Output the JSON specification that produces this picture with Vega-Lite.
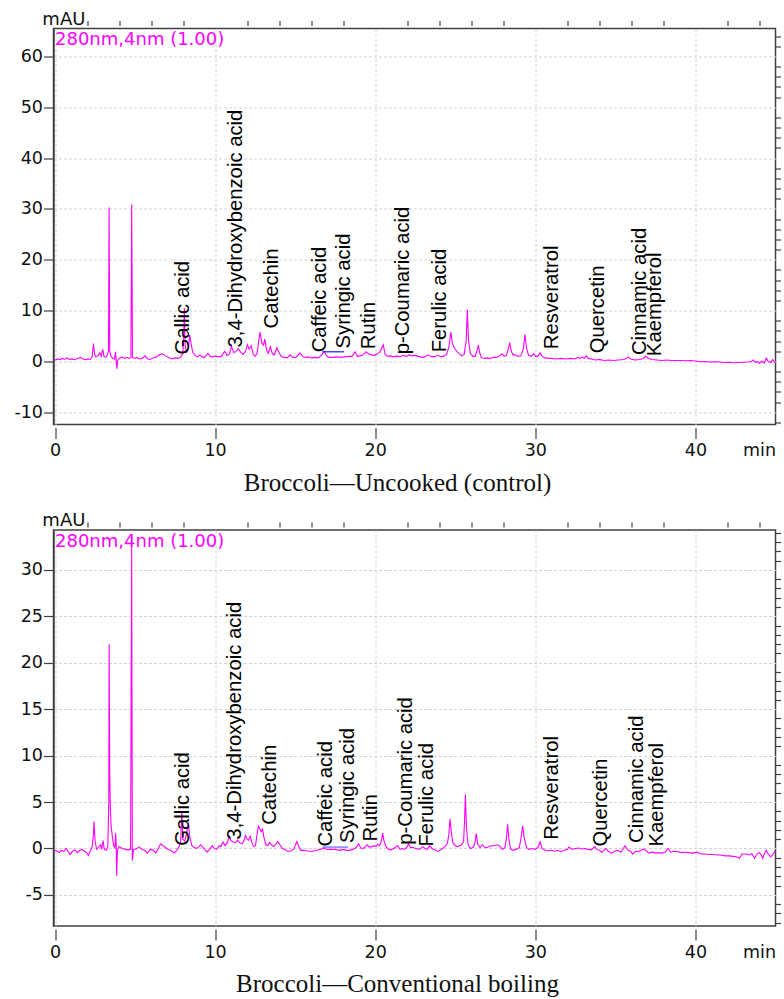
{
  "$schema": "https://vega.github.io/schema/vega-lite/v6.json",
  "background": "white",
  "padding": {"left": 12.5, "top": 9.5, "right": 0, "bottom": 0},
  "bounds": "flush",
  "spacing": 105.5,
  "config": {
    "view": {"stroke": "#404040", "strokeWidth": 1.5},
    "axis": {
      "labelFont": "DejaVu Sans", "labelFontSize": 17.5, "labelColor": "#111111",
      "titleFont": "DejaVu Sans", "titleFontSize": 17.5, "titleFontWeight": "normal", "titleColor": "#111111",
      "tickColor": "#404040", "domainColor": "#404040",
      "gridColor": "#d4d4d4", "gridDash": [3, 2], "gridWidth": 1
    }
  },
  "datasets": {
    "top": [
      {"t":0,"v":0.3},{"t":0.15,"v":0.5},{"t":0.3,"v":0.35},{"t":0.45,"v":0.6},{"t":0.6,"v":0.45},{"t":0.75,"v":0.7},{"t":0.9,"v":0.4},{"t":1.05,"v":0.5},{"t":1.2,"v":0.35},{"t":1.4,"v":0.6},{"t":1.6,"v":0.8},{"t":1.75,"v":0.5},{"t":1.9,"v":0.35},{"t":2.05,"v":0.5},{"t":2.2,"v":0.4},{"t":2.32,"v":0.9},{"t":2.4,"v":3.5},{"t":2.47,"v":1.5},{"t":2.55,"v":0.9},{"t":2.7,"v":1.2},{"t":2.8,"v":1.7},{"t":2.88,"v":1.0},{"t":2.98,"v":2.4},{"t":3.06,"v":1.0},{"t":3.18,"v":0.8},{"t":3.28,"v":1.3},{"t":3.34,"v":2},{"t":3.38,"v":30.3},{"t":3.42,"v":2.0},{"t":3.5,"v":1.0},{"t":3.62,"v":0.6},{"t":3.72,"v":0.5},{"t":3.78,"v":1.9},{"t":3.82,"v":0.2},{"t":3.86,"v":-1.4},{"t":3.92,"v":0.3},{"t":4.05,"v":0.7},{"t":4.2,"v":0.9},{"t":4.35,"v":0.6},{"t":4.5,"v":0.8},{"t":4.62,"v":0.6},{"t":4.74,"v":0.8},{"t":4.79,"v":30.9},{"t":4.84,"v":0.8},{"t":4.95,"v":0.6},{"t":5.1,"v":0.8},{"t":5.25,"v":0.5},{"t":5.45,"v":0.6},{"t":5.62,"v":1.1},{"t":5.78,"v":0.5},{"t":5.95,"v":0.4},{"t":6.1,"v":0.7},{"t":6.3,"v":0.8},{"t":6.5,"v":1.3},{"t":6.7,"v":1.5},{"t":6.9,"v":1.1},{"t":7.1,"v":0.8},{"t":7.3,"v":0.5},{"t":7.5,"v":0.7},{"t":7.7,"v":0.6},{"t":7.85,"v":0.9},{"t":7.98,"v":1.5},{"t":8.03,"v":4},{"t":8.08,"v":10.5},{"t":8.13,"v":3},{"t":8.22,"v":1.8},{"t":8.32,"v":2.5},{"t":8.42,"v":5.2},{"t":8.5,"v":3.5},{"t":8.6,"v":1.8},{"t":8.75,"v":1.2},{"t":8.9,"v":0.9},{"t":9.05,"v":1.3},{"t":9.2,"v":0.9},{"t":9.35,"v":0.8},{"t":9.55,"v":1.6},{"t":9.7,"v":1.0},{"t":9.85,"v":0.9},{"t":10.0,"v":1.1},{"t":10.2,"v":0.9},{"t":10.4,"v":1.0},{"t":10.6,"v":2.0},{"t":10.75,"v":1.2},{"t":10.9,"v":1.5},{"t":11.02,"v":3.0},{"t":11.15,"v":1.8},{"t":11.3,"v":1.9},{"t":11.45,"v":2.5},{"t":11.6,"v":1.8},{"t":11.75,"v":1.4},{"t":11.9,"v":2.0},{"t":12.02,"v":3.3},{"t":12.12,"v":2.4},{"t":12.25,"v":3.1},{"t":12.38,"v":1.4},{"t":12.5,"v":1.0},{"t":12.62,"v":1.6},{"t":12.8,"v":5.8},{"t":12.92,"v":3.6},{"t":13.02,"v":3.2},{"t":13.1,"v":4.4},{"t":13.22,"v":2.2},{"t":13.32,"v":1.6},{"t":13.45,"v":2.9},{"t":13.58,"v":1.5},{"t":13.7,"v":1.3},{"t":13.85,"v":2.7},{"t":13.98,"v":1.8},{"t":14.12,"v":1.0},{"t":14.3,"v":0.8},{"t":14.5,"v":0.7},{"t":14.7,"v":1.3},{"t":14.85,"v":0.8},{"t":15.05,"v":0.8},{"t":15.3,"v":1.7},{"t":15.45,"v":1.0},{"t":15.6,"v":0.8},{"t":15.8,"v":0.9},{"t":16.0,"v":0.7},{"t":16.2,"v":0.8},{"t":16.45,"v":0.7},{"t":16.65,"v":1.3},{"t":16.82,"v":2.0},{"t":16.95,"v":1.1},{"t":17.1,"v":0.8},{"t":17.35,"v":0.8},{"t":17.6,"v":0.9},{"t":17.85,"v":0.8},{"t":18.1,"v":0.9},{"t":18.35,"v":1.0},{"t":18.55,"v":1.0},{"t":18.75,"v":1.9},{"t":18.88,"v":1.0},{"t":19.05,"v":1.1},{"t":19.25,"v":1.3},{"t":19.42,"v":1.9},{"t":19.58,"v":1.5},{"t":19.75,"v":1.3},{"t":19.95,"v":1.2},{"t":20.15,"v":1.5},{"t":20.3,"v":1.9},{"t":20.5,"v":3.3},{"t":20.62,"v":1.4},{"t":20.78,"v":1.0},{"t":20.95,"v":1.1},{"t":21.15,"v":0.9},{"t":21.35,"v":1.1},{"t":21.55,"v":0.9},{"t":21.75,"v":1.2},{"t":21.95,"v":1.0},{"t":22.1,"v":1.3},{"t":22.3,"v":1.1},{"t":22.5,"v":1.2},{"t":22.7,"v":1.0},{"t":22.9,"v":0.8},{"t":23.1,"v":0.9},{"t":23.3,"v":1.3},{"t":23.5,"v":1.0},{"t":23.7,"v":0.9},{"t":23.9,"v":1.2},{"t":24.1,"v":0.9},{"t":24.3,"v":1.1},{"t":24.45,"v":1.4},{"t":24.6,"v":2.8},{"t":24.72,"v":5.8},{"t":24.82,"v":3.5},{"t":24.95,"v":2.6},{"t":25.1,"v":2.0},{"t":25.25,"v":1.5},{"t":25.4,"v":1.1},{"t":25.55,"v":1.4},{"t":25.68,"v":4},{"t":25.75,"v":10.2},{"t":25.83,"v":4},{"t":25.95,"v":1.5},{"t":26.1,"v":1.0},{"t":26.25,"v":1.0},{"t":26.36,"v":2.2},{"t":26.44,"v":3.2},{"t":26.52,"v":1.8},{"t":26.62,"v":0.8},{"t":26.8,"v":0.6},{"t":27.0,"v":0.7},{"t":27.2,"v":0.6},{"t":27.4,"v":0.8},{"t":27.6,"v":0.8},{"t":27.8,"v":1.2},{"t":27.92,"v":1.5},{"t":28.05,"v":1.0},{"t":28.2,"v":1.2},{"t":28.32,"v":2.6},{"t":28.4,"v":3.7},{"t":28.48,"v":2.2},{"t":28.6,"v":1.3},{"t":28.75,"v":1.3},{"t":28.9,"v":1.0},{"t":29.1,"v":1.1},{"t":29.25,"v":2.5},{"t":29.35,"v":5.3},{"t":29.45,"v":2.6},{"t":29.58,"v":1.2},{"t":29.75,"v":1.0},{"t":29.9,"v":1.5},{"t":30.02,"v":1.0},{"t":30.15,"v":1.0},{"t":30.3,"v":1.7},{"t":30.42,"v":1.0},{"t":30.6,"v":0.7},{"t":30.8,"v":0.6},{"t":31.0,"v":0.6},{"t":31.3,"v":0.5},{"t":31.6,"v":0.6},{"t":31.9,"v":0.5},{"t":32.2,"v":0.6},{"t":32.45,"v":0.5},{"t":32.65,"v":0.8},{"t":32.8,"v":0.6},{"t":32.95,"v":0.9},{"t":33.05,"v":0.6},{"t":33.18,"v":1.1},{"t":33.3,"v":0.6},{"t":33.5,"v":0.5},{"t":33.75,"v":0.3},{"t":34.0,"v":0.4},{"t":34.3,"v":0.2},{"t":34.6,"v":0.3},{"t":34.9,"v":0.2},{"t":35.2,"v":0.3},{"t":35.5,"v":0.4},{"t":35.7,"v":0.6},{"t":35.83,"v":0.9},{"t":35.95,"v":0.5},{"t":36.2,"v":0.3},{"t":36.5,"v":0.4},{"t":36.75,"v":0.6},{"t":36.9,"v":1.05},{"t":37.05,"v":0.6},{"t":37.3,"v":0.4},{"t":37.6,"v":0.3},{"t":37.9,"v":0.2},{"t":38.2,"v":0.3},{"t":38.5,"v":0.2},{"t":38.8,"v":0.2},{"t":39.1,"v":0.2},{"t":39.4,"v":0.15},{"t":39.7,"v":0.2},{"t":40.0,"v":0.1},{"t":40.3,"v":-0.05},{"t":40.6,"v":0.0},{"t":40.9,"v":-0.1},{"t":41.2,"v":-0.05},{"t":41.5,"v":-0.1},{"t":41.8,"v":-0.2},{"t":42.1,"v":-0.15},{"t":42.4,"v":-0.25},{"t":42.7,"v":-0.2},{"t":43.0,"v":-0.15},{"t":43.3,"v":-0.1},{"t":43.5,"v":0.0},{"t":43.6,"v":0.3},{"t":43.75,"v":-0.2},{"t":43.9,"v":0.0},{"t":44.0,"v":-0.4},{"t":44.15,"v":0.1},{"t":44.3,"v":-0.3},{"t":44.42,"v":0.7},{"t":44.55,"v":0.0},{"t":44.7,"v":-0.2},{"t":44.83,"v":0.4},{"t":44.95,"v":-0.2},{"t":45.0,"v":-0.2}
    ],
    "bot": [
      {"t":0,"v":-0.2},{"t":0.15,"v":-0.3},{"t":0.25,"v":-0.45},{"t":0.4,"v":-0.2},{"t":0.55,"v":-0.3},{"t":0.7,"v":0.0},{"t":0.85,"v":-0.4},{"t":0.95,"v":-0.65},{"t":1.1,"v":-0.3},{"t":1.25,"v":-0.15},{"t":1.4,"v":-0.45},{"t":1.55,"v":-0.2},{"t":1.7,"v":-0.1},{"t":1.85,"v":-0.3},{"t":2.0,"v":-0.5},{"t":2.08,"v":-0.75},{"t":2.2,"v":-0.3},{"t":2.32,"v":0.2},{"t":2.4,"v":1.5},{"t":2.44,"v":2.9},{"t":2.5,"v":0.8},{"t":2.6,"v":-0.1},{"t":2.7,"v":0.1},{"t":2.85,"v":0.4},{"t":2.92,"v":-0.1},{"t":3.0,"v":0.85},{"t":3.08,"v":-0.1},{"t":3.2,"v":-0.2},{"t":3.3,"v":0.2},{"t":3.36,"v":5},{"t":3.38,"v":22.0},{"t":3.42,"v":8},{"t":3.45,"v":4.7},{"t":3.5,"v":2.5},{"t":3.58,"v":1.3},{"t":3.66,"v":0.3},{"t":3.74,"v":0.1},{"t":3.79,"v":1.65},{"t":3.82,"v":0.5},{"t":3.85,"v":-2.95},{"t":3.9,"v":-0.2},{"t":4.0,"v":0.2},{"t":4.2,"v":0.0},{"t":4.4,"v":-0.1},{"t":4.6,"v":-0.15},{"t":4.72,"v":-0.1},{"t":4.79,"v":32.5},{"t":4.83,"v":-1.3},{"t":4.9,"v":-0.1},{"t":5.05,"v":-0.05},{"t":5.25,"v":0.15},{"t":5.45,"v":-0.1},{"t":5.6,"v":-0.2},{"t":5.77,"v":-0.5},{"t":5.95,"v":-0.1},{"t":6.1,"v":-0.15},{"t":6.3,"v":-0.5},{"t":6.45,"v":0.0},{"t":6.6,"v":0.5},{"t":6.75,"v":0.3},{"t":6.9,"v":0.1},{"t":7.05,"v":-0.1},{"t":7.2,"v":-0.2},{"t":7.35,"v":-0.35},{"t":7.44,"v":-0.5},{"t":7.6,"v":-0.2},{"t":7.75,"v":0.2},{"t":7.85,"v":0.8},{"t":7.92,"v":4.0},{"t":7.98,"v":1.0},{"t":8.1,"v":0.8},{"t":8.22,"v":1.6},{"t":8.33,"v":2.8},{"t":8.42,"v":1.2},{"t":8.55,"v":0.3},{"t":8.7,"v":0.1},{"t":8.85,"v":0.0},{"t":9.0,"v":0.2},{"t":9.1,"v":0.4},{"t":9.25,"v":0.1},{"t":9.4,"v":-0.2},{"t":9.5,"v":-0.4},{"t":9.65,"v":-0.1},{"t":9.83,"v":0.3},{"t":9.95,"v":0.0},{"t":10.1,"v":-0.1},{"t":10.25,"v":0.3},{"t":10.35,"v":0.2},{"t":10.5,"v":0.7},{"t":10.62,"v":0.3},{"t":10.75,"v":0.6},{"t":10.88,"v":1.3},{"t":11.0,"v":0.8},{"t":11.1,"v":0.75},{"t":11.25,"v":0.6},{"t":11.4,"v":0.9},{"t":11.55,"v":0.6},{"t":11.7,"v":0.5},{"t":11.82,"v":0.9},{"t":11.9,"v":1.4},{"t":12.0,"v":1.0},{"t":12.08,"v":0.9},{"t":12.2,"v":1.3},{"t":12.3,"v":0.6},{"t":12.4,"v":0.2},{"t":12.52,"v":0.3},{"t":12.62,"v":1.5},{"t":12.7,"v":2.4},{"t":12.8,"v":2.1},{"t":12.88,"v":1.8},{"t":12.96,"v":2.1},{"t":13.05,"v":1.2},{"t":13.17,"v":0.4},{"t":13.28,"v":0.3},{"t":13.4,"v":0.65},{"t":13.52,"v":0.4},{"t":13.65,"v":0.2},{"t":13.78,"v":0.4},{"t":13.9,"v":0.75},{"t":14.05,"v":0.4},{"t":14.2,"v":0.0},{"t":14.35,"v":-0.1},{"t":14.5,"v":-0.3},{"t":14.7,"v":-0.3},{"t":14.9,"v":-0.1},{"t":15.05,"v":0.5},{"t":15.1,"v":0.75},{"t":15.2,"v":0.3},{"t":15.35,"v":-0.2},{"t":15.55,"v":-0.2},{"t":15.8,"v":-0.3},{"t":16.1,"v":-0.3},{"t":16.35,"v":-0.2},{"t":16.55,"v":-0.1},{"t":16.8,"v":0.05},{"t":17.0,"v":-0.1},{"t":17.25,"v":-0.1},{"t":17.5,"v":-0.1},{"t":17.75,"v":-0.2},{"t":18.0,"v":-0.1},{"t":18.2,"v":-0.2},{"t":18.4,"v":-0.2},{"t":18.6,"v":-0.1},{"t":18.8,"v":0.1},{"t":18.96,"v":0.5},{"t":19.1,"v":0.05},{"t":19.25,"v":0.0},{"t":19.38,"v":0.2},{"t":19.5,"v":0.4},{"t":19.62,"v":0.15},{"t":19.8,"v":0.2},{"t":19.95,"v":0.3},{"t":20.05,"v":0.2},{"t":20.15,"v":0.45},{"t":20.28,"v":0.3},{"t":20.4,"v":0.9},{"t":20.46,"v":1.65},{"t":20.55,"v":0.8},{"t":20.67,"v":0.2},{"t":20.85,"v":-0.1},{"t":21.0,"v":-0.15},{"t":21.2,"v":0.05},{"t":21.4,"v":0.3},{"t":21.55,"v":-0.1},{"t":21.7,"v":0.0},{"t":21.85,"v":-0.1},{"t":22.0,"v":0.2},{"t":22.08,"v":0.5},{"t":22.2,"v":0.1},{"t":22.35,"v":0.1},{"t":22.55,"v":0.0},{"t":22.75,"v":-0.1},{"t":22.96,"v":0.2},{"t":23.1,"v":0.0},{"t":23.25,"v":-0.1},{"t":23.4,"v":0.3},{"t":23.55,"v":0.0},{"t":23.75,"v":-0.2},{"t":23.9,"v":-0.3},{"t":24.05,"v":-0.2},{"t":24.2,"v":0.0},{"t":24.35,"v":0.2},{"t":24.5,"v":0.5},{"t":24.6,"v":1.5},{"t":24.67,"v":3.2},{"t":24.75,"v":1.8},{"t":24.85,"v":0.6},{"t":25.0,"v":0.3},{"t":25.15,"v":0.2},{"t":25.25,"v":0.3},{"t":25.4,"v":0.4},{"t":25.52,"v":0.8},{"t":25.58,"v":3},{"t":25.63,"v":5.8},{"t":25.7,"v":2.2},{"t":25.8,"v":0.4},{"t":25.95,"v":0.0},{"t":26.1,"v":0.1},{"t":26.22,"v":0.5},{"t":26.31,"v":1.6},{"t":26.4,"v":0.5},{"t":26.55,"v":0.1},{"t":26.7,"v":0.4},{"t":26.85,"v":0.1},{"t":27.0,"v":0.1},{"t":27.2,"v":0.3},{"t":27.45,"v":0.3},{"t":27.65,"v":0.4},{"t":27.8,"v":0.2},{"t":27.95,"v":-0.1},{"t":28.1,"v":0.1},{"t":28.2,"v":1.2},{"t":28.27,"v":2.6},{"t":28.35,"v":1.0},{"t":28.45,"v":-0.05},{"t":28.6,"v":-0.2},{"t":28.8,"v":-0.1},{"t":29.0,"v":0.1},{"t":29.12,"v":1.3},{"t":29.21,"v":2.45},{"t":29.3,"v":1.2},{"t":29.45,"v":0.1},{"t":29.6,"v":-0.1},{"t":29.8,"v":0.0},{"t":30.0,"v":-0.1},{"t":30.15,"v":0.1},{"t":30.3,"v":0.7},{"t":30.42,"v":0.0},{"t":30.6,"v":-0.2},{"t":30.8,"v":-0.25},{"t":31.0,"v":-0.2},{"t":31.2,"v":-0.3},{"t":31.4,"v":-0.2},{"t":31.6,"v":-0.35},{"t":31.8,"v":-0.2},{"t":32.0,"v":-0.1},{"t":32.1,"v":0.15},{"t":32.3,"v":-0.1},{"t":32.5,"v":0.0},{"t":32.7,"v":0.05},{"t":32.9,"v":-0.05},{"t":33.1,"v":0.0},{"t":33.3,"v":-0.1},{"t":33.5,"v":-0.15},{"t":33.7,"v":0.2},{"t":33.85,"v":-0.1},{"t":34.0,"v":-0.2},{"t":34.15,"v":-0.4},{"t":34.4,"v":0.0},{"t":34.55,"v":-0.3},{"t":34.75,"v":-0.5},{"t":34.95,"v":-0.3},{"t":35.15,"v":-0.2},{"t":35.35,"v":-0.4},{"t":35.6,"v":0.3},{"t":35.8,"v":-0.2},{"t":35.95,"v":-0.3},{"t":36.08,"v":-0.6},{"t":36.25,"v":-0.3},{"t":36.45,"v":-0.35},{"t":36.6,"v":-0.2},{"t":36.8,"v":-0.05},{"t":36.95,"v":-0.3},{"t":37.1,"v":-0.5},{"t":37.3,"v":-0.4},{"t":37.5,"v":-0.5},{"t":37.7,"v":-0.45},{"t":37.9,"v":-0.5},{"t":38.1,"v":-0.4},{"t":38.3,"v":0.0},{"t":38.45,"v":-0.4},{"t":38.65,"v":-0.3},{"t":38.9,"v":-0.35},{"t":39.1,"v":-0.45},{"t":39.35,"v":-0.4},{"t":39.6,"v":-0.45},{"t":39.85,"v":-0.5},{"t":40.1,"v":-0.4},{"t":40.35,"v":-0.6},{"t":40.6,"v":-0.6},{"t":40.85,"v":-0.65},{"t":41.1,"v":-0.65},{"t":41.35,"v":-0.7},{"t":41.6,"v":-0.7},{"t":41.85,"v":-0.8},{"t":42.1,"v":-0.8},{"t":42.35,"v":-0.85},{"t":42.55,"v":-0.9},{"t":42.75,"v":-1.05},{"t":42.9,"v":-0.6},{"t":43.05,"v":-0.6},{"t":43.2,"v":-0.6},{"t":43.38,"v":-0.7},{"t":43.52,"v":-0.55},{"t":43.69,"v":-1.05},{"t":43.85,"v":-0.6},{"t":44.0,"v":-0.45},{"t":44.1,"v":-0.65},{"t":44.2,"v":-1.05},{"t":44.32,"v":-0.5},{"t":44.42,"v":-0.2},{"t":44.55,"v":-0.6},{"t":44.7,"v":-0.9},{"t":44.85,"v":-0.6},{"t":45.0,"v":-0.2}
    ],
    "blueTop": [{"t":16.7,"v":1.9},{"t":18.05,"v":1.9}],
    "blueBot": [{"t":16.7,"v":0.15},{"t":18.3,"v":0.15}],
    "labelsTop": [
      {"name":"Gallic acid","t":8.375,"v":1.38},
      {"name":"3,4-Dihydroxybenzoic acid","t":11.7,"v":2.75},
      {"name":"Catechin","t":13.9,"v":6.5},
      {"name":"Caffeic acid","t":16.9,"v":1.8},
      {"name":"Syringic acid","t":18.4,"v":2.55},
      {"name":"Rutin","t":20.0,"v":2.4},
      {"name":"p-Coumaric acid","t":22.1,"v":1.4},
      {"name":"Ferulic acid","t":24.4,"v":1.8},
      {"name":"Resveratrol","t":31.4,"v":2.4},
      {"name":"Quercetin","t":34.3,"v":1.6},
      {"name":"Cinnamic acid","t":36.9,"v":1.25},
      {"name":"Kaempferol","t":37.85,"v":1.05}
    ],
    "labelsBot": [
      {"name":"Gallic acid","t":8.375,"v":0.3},
      {"name":"3,4-Dihydroxybenzoic acid","t":11.6,"v":0.95},
      {"name":"Catechin","t":13.8,"v":2.55},
      {"name":"Caffeic acid","t":17.27,"v":0.2},
      {"name":"Syringic acid","t":18.7,"v":0.6},
      {"name":"Rutin","t":20.1,"v":0.75},
      {"name":"p-Coumaric acid","t":22.3,"v":0.4},
      {"name":"Ferulic acid","t":23.6,"v":0.2},
      {"name":"Resveratrol","t":31.4,"v":0.95},
      {"name":"Quercetin","t":34.5,"v":0.2},
      {"name":"Cinnamic acid","t":36.7,"v":0.6},
      {"name":"Kaempferol","t":37.95,"v":0.2}
    ],
    "headTop": [{"t":0,"v":62.2,"txt":"280nm,4nm (1.00)","color":"magenta"},{"t":-0.79,"v":66.19,"txt":"mAU","color":"black"}],
    "headBot": [{"t":0,"v":32.5,"txt":"280nm,4nm (1.00)","color":"magenta"},{"t":-0.79,"v":34.73,"txt":"mAU","color":"black"}]
  },
  "vconcat": [
    {
      "width": 722, "height": 396,
      "title": {"text": "Broccoli—Uncooked (control)", "orient": "bottom", "font": "Liberation Serif", "fontSize": 25, "fontWeight": "normal", "color": "#111111", "dx": -17, "offset": 11.5},
      "resolve": {"axis": {"x": "independent", "y": "independent"}},
      "layer": [
        {
          "data": {"name": "top"},
          "mark": {"type": "line", "color": "#ff00ff", "strokeWidth": 1.1, "clip": true},
          "encoding": {
            "x": {"field": "t", "type": "quantitative", "scale": {"domain": [-0.094, 45], "nice": false, "zero": false},
                  "axis": {"values": [0,10,20,30,40], "labelExpr": "'' + datum.value", "tickSize": 11, "tickWidth": 1.2, "labelPadding": 3, "offset": 3, "domain": false, "grid": true, "labelFlush": false, "labelOverlap": false, "title": "min", "titleX": 722, "titleY": 28, "titleAlign": "right", "titleBaseline": "alphabetic"}},
            "y": {"field": "v", "type": "quantitative", "scale": {"domain": [-12.4, 65.5], "nice": false, "zero": false},
                  "axis": {"values": [-10,0,10,20,30,40,50,60], "labelExpr": "'' + datum.value", "tickSize": 10, "tickWidth": 1.2, "labelPadding": 1, "domain": true, "domainWidth": 1.5, "grid": true, "labelFlush": false, "labelOverlap": false, "title": null}}
          }
        },
        {
          "data": {"name": "blueTop"},
          "mark": {"type": "line", "color": "#0000ff", "strokeWidth": 1.1},
          "encoding": {
            "x": {"field": "t", "type": "quantitative", "scale": {"domain": [-0.094, 45], "nice": false, "zero": false},
                  "axis": {"values": [2,4,6,8,12,14,16,18,22,24,26,28,32,34,36,38,42,44], "labels": false, "tickSize": 5, "tickWidth": 1.2, "offset": 3, "domain": false, "grid": false, "title": null}},
            "y": {"field": "v", "type": "quantitative", "scale": {"domain": [-12.4, 65.5], "nice": false, "zero": false},
                  "axis": {"values": [-12,-8,-6,-4,-2,2,4,6,8,12,14,16,18,22,24,26,28,32,34,36,38,42,44,46,48,52,54,56,58,62,64], "labels": false, "tickSize": 5, "tickWidth": 1.2, "domain": false, "grid": false, "title": null}}
          }
        },
        {
          "data": {"name": "labelsTop"},
          "mark": {"type": "text", "angle": 270, "align": "left", "baseline": "alphabetic", "font": "Liberation Sans", "fontSize": 20.3, "color": "#000000"},
          "encoding": {
            "x": {"field": "t", "type": "quantitative", "scale": {"domain": [-0.094, 45], "nice": false, "zero": false}, "axis": null},
            "y": {"field": "v", "type": "quantitative", "scale": {"domain": [-12.4, 65.5], "nice": false, "zero": false}, "axis": null},
            "text": {"field": "name"}
          }
        },
        {
          "data": {"name": "headTop"},
          "mark": {"type": "text", "align": "left", "baseline": "alphabetic", "font": "DejaVu Sans", "fontSize": 18},
          "encoding": {
            "x": {"field": "t", "type": "quantitative", "scale": {"domain": [-0.094, 45], "nice": false, "zero": false}, "axis": null},
            "y": {"field": "v", "type": "quantitative", "scale": {"domain": [-12.4, 65.5], "nice": false, "zero": false}, "axis": null},
            "text": {"field": "txt"},
            "color": {"field": "color", "type": "nominal", "scale": {"domain": ["magenta", "black"], "range": ["#ff00ff", "#111111"]}, "legend": null}
          }
        }
      ]
    },
    {
      "width": 722, "height": 396,
      "title": {"text": "Broccoli—Conventional boiling", "orient": "bottom", "font": "Liberation Serif", "fontSize": 25, "fontWeight": "normal", "color": "#111111", "dx": -17, "offset": 11},
      "resolve": {"axis": {"x": "independent", "y": "independent"}},
      "layer": [
        {
          "data": {"name": "bot"},
          "mark": {"type": "line", "color": "#ff00ff", "strokeWidth": 1.1, "clip": true},
          "encoding": {
            "x": {"field": "t", "type": "quantitative", "scale": {"domain": [-0.094, 45], "nice": false, "zero": false},
                  "axis": {"values": [0,10,20,30,40], "labelExpr": "'' + datum.value", "tickSize": 11, "tickWidth": 1.2, "labelPadding": 3, "offset": 3, "domain": false, "grid": true, "labelFlush": false, "labelOverlap": false, "title": "min", "titleX": 722, "titleY": 28, "titleAlign": "right", "titleBaseline": "alphabetic"}},
            "y": {"field": "v", "type": "quantitative", "scale": {"domain": [-8.35, 34.3], "nice": false, "zero": false},
                  "axis": {"values": [-5,0,5,10,15,20,25,30], "labelExpr": "'' + datum.value", "tickSize": 10, "tickWidth": 1.2, "labelPadding": 1, "domain": true, "domainWidth": 1.5, "grid": true, "labelFlush": false, "labelOverlap": false, "title": null}}
          }
        },
        {
          "data": {"name": "blueBot"},
          "mark": {"type": "line", "color": "#5050ff", "strokeWidth": 1.1},
          "encoding": {
            "x": {"field": "t", "type": "quantitative", "scale": {"domain": [-0.094, 45], "nice": false, "zero": false},
                  "axis": {"values": [2,4,6,8,12,14,16,18,22,24,26,28,32,34,36,38,42,44], "labels": false, "tickSize": 5, "tickWidth": 1.2, "offset": 3, "domain": false, "grid": false, "title": null}},
            "y": {"field": "v", "type": "quantitative", "scale": {"domain": [-8.35, 34.3], "nice": false, "zero": false},
                  "axis": {"values": [-8,-7,-6,-4,-3,-2,-1,1,2,3,4,6,7,8,9,11,12,13,14,16,17,18,19,21,22,23,24,26,27,28,29,31,32,33,34], "labels": false, "tickSize": 5, "tickWidth": 1.2, "domain": false, "grid": false, "title": null}}
          }
        },
        {
          "data": {"name": "labelsBot"},
          "mark": {"type": "text", "angle": 270, "align": "left", "baseline": "alphabetic", "font": "Liberation Sans", "fontSize": 20.3, "color": "#000000"},
          "encoding": {
            "x": {"field": "t", "type": "quantitative", "scale": {"domain": [-0.094, 45], "nice": false, "zero": false}, "axis": null},
            "y": {"field": "v", "type": "quantitative", "scale": {"domain": [-8.35, 34.3], "nice": false, "zero": false}, "axis": null},
            "text": {"field": "name"}
          }
        },
        {
          "data": {"name": "headBot"},
          "mark": {"type": "text", "align": "left", "baseline": "alphabetic", "font": "DejaVu Sans", "fontSize": 18},
          "encoding": {
            "x": {"field": "t", "type": "quantitative", "scale": {"domain": [-0.094, 45], "nice": false, "zero": false}, "axis": null},
            "y": {"field": "v", "type": "quantitative", "scale": {"domain": [-8.35, 34.3], "nice": false, "zero": false}, "axis": null},
            "text": {"field": "txt"},
            "color": {"field": "color", "type": "nominal", "scale": {"domain": ["magenta", "black"], "range": ["#ff00ff", "#111111"]}, "legend": null}
          }
        }
      ]
    }
  ]
}
